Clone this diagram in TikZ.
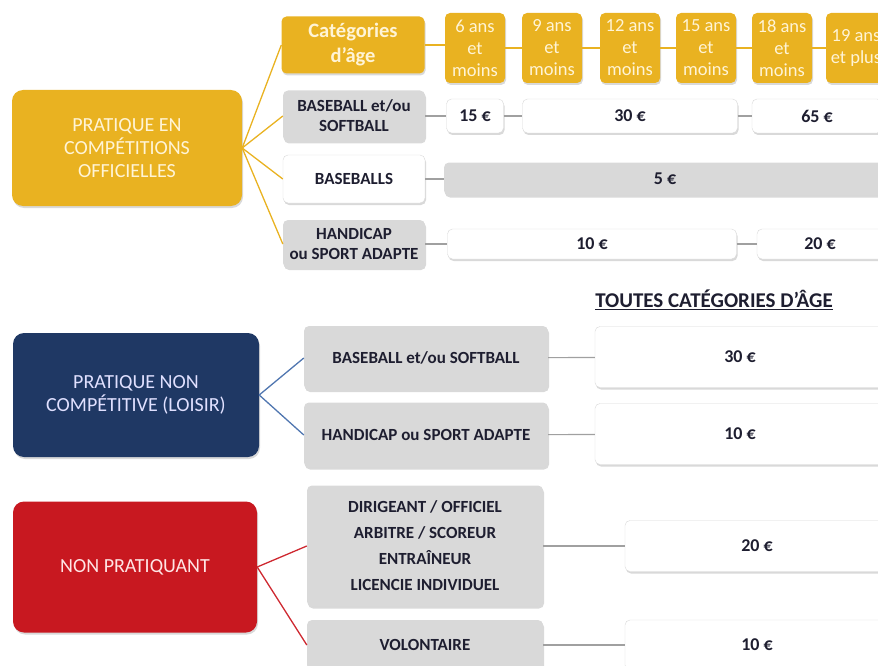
\documentclass[tikz,border=0pt]{standalone}
\usepackage{fontspec}
\setmainfont{Carlito}
\usetikzlibrary{shadows}

\definecolor{gold}{RGB}{233,178,33}
\definecolor{cream}{RGB}{255,244,214}
\definecolor{navy}{RGB}{31,56,100}
\definecolor{navyline}{RGB}{80,118,176}
\definecolor{crimson}{RGB}{200,24,32}
\definecolor{crimsonline}{RGB}{206,40,48}
\definecolor{panel}{RGB}{217,217,217}
\definecolor{ink}{RGB}{30,30,48}
\definecolor{joint}{RGB}{160,160,160}

\begin{document}
\begin{tikzpicture}[x=1pt,y=-1pt,
  every node/.style={align=center, inner sep=0pt},
  box/.style={rounded corners=5pt,
    drop shadow={opacity=0.3, shadow xshift=1pt, shadow yshift=-2pt}},
  headbox/.style={box, rounded corners=11pt, font=\fontsize{20}{23}\selectfont},
  agebox/.style={box, fill=gold, text=cream, minimum width=60, minimum height=70,
    font=\fontsize{18.5}{22}\selectfont},
  itembox/.style={box, fill=panel, text=ink, font=\bfseries\fontsize{17}{20}\selectfont},
  pricebox/.style={box, fill=white, draw=black!15, text=ink,
    font=\bfseries\fontsize{18}{20}\selectfont},
  goldlink/.style={draw=gold, line width=1.3pt},
  bluelink/.style={draw=navyline, line width=1.3pt},
  redlink/.style={draw=crimsonline, line width=1.3pt},
  greylink/.style={draw=joint, line width=1.1pt}]

  \path[use as bounding box, clip]
    (0,0)
    rectangle
    (878,666);

  \node[headbox, fill=gold, text=cream, minimum width=230, minimum height=116]
    (compet) at (127,148) {PRATIQUE EN\\COMPÉTITIONS\\OFFICIELLES};
  \node[box, fill=gold, text=cream, minimum width=143, minimum height=57,
    font=\bfseries\fontsize{20.5}{25}\selectfont]
    (cat) at (353,45) {Catégories\\d'âge};
  \node[itembox, minimum width=142, minimum height=51]
    (bs1) at (354,116) {BASEBALL et/ou\\SOFTBALL};
  \node[itembox, fill=white, draw=black!15, minimum width=142, minimum height=48]
    (balls) at (354,179) {BASEBALLS};
  \node[itembox, minimum width=142, minimum height=48]
    (hand1) at (354,244) {HANDICAP\\ou SPORT ADAPTE};

  \node[agebox] (a6) at (475,48) {6 ans\\et\\moins};
  \node[agebox] (a9) at (552,48) {9 ans\\et\\moins};
  \node[agebox] (a12) at (630,48) {12 ans\\et\\moins};
  \node[agebox] (a15) at (706,48) {15 ans\\et\\moins};
  \node[agebox] (a18) at (782,48) {18 ans\\et\\moins};
  \node[agebox] (a19) at (856,48) {19 ans\\et plus};

  \node[pricebox, minimum width=57, minimum height=34] (p15) at (475,116) {15 €};
  \node[pricebox, minimum width=215, minimum height=34] (p30) at (630,116) {30 €};
  \node[pricebox, minimum width=130, minimum height=34] (p65) at (817,116) {65 €};
  \node[pricebox, fill=panel, draw=none, minimum width=442, minimum height=33]
    (p5) at (665,179) {5 €};
  \node[pricebox, minimum width=289, minimum height=30] (p10) at (592,244) {10 €};
  \node[pricebox, minimum width=126, minimum height=30] (p20) at (820,244) {20 €};

  \draw[goldlink] (compet.east) -- (cat.west);
  \draw[goldlink] (compet.east) -- (bs1.west);
  \draw[goldlink] (compet.east) -- (balls.west);
  \draw[goldlink] (compet.east) -- (hand1.west);
  \draw[goldlink]
    (cat.east)
    --
    (a6.west |- cat.east);
  \foreach \from/\to in {a6/a9,a9/a12,a12/a15,a15/a18,a18/a19}
    \draw[goldlink] (\from.east) -- (\to.west);

  \draw[greylink] (bs1) -- (p15);
  \draw[greylink] (p15) -- (p30);
  \draw[greylink] (p30) -- (p65);
  \draw[greylink] (balls) -- (p5);
  \draw[greylink] (hand1) -- (p10);
  \draw[greylink] (p10) -- (p20);

  \node[font=\bfseries\fontsize{21}{24}\selectfont, text=ink]
    (toutes) at (714,300) {\underline{TOUTES CATÉGORIES D'ÂGE}};

  \node[headbox, fill=navy, text=white!88!blue, minimum width=246, minimum height=124]
    (loisir) at (136,395) {PRATIQUE NON\\COMPÉTITIVE (LOISIR)};
  \node[itembox, minimum width=244, minimum height=64]
    (bs2) at (426,358) {BASEBALL et/ou SOFTBALL};
  \node[itembox, minimum width=244, minimum height=65]
    (hand2) at (426,435) {HANDICAP ou SPORT ADAPTE};
  \node[pricebox, minimum width=290, minimum height=61] (q30) at (740,357) {30 €};
  \node[pricebox, minimum width=290, minimum height=61] (q10) at (740,434) {10 €};

  \draw[bluelink] (loisir.east) -- (bs2.west);
  \draw[bluelink] (loisir.east) -- (hand2.west);
  \draw[greylink] (bs2) -- (q30);
  \draw[greylink] (hand2) -- (q10);

  \node[headbox, fill=crimson, text=white!90!red, minimum width=244, minimum height=131]
    (nonprat) at (135,567) {NON PRATIQUANT};
  \node[itembox, minimum width=236, minimum height=121, font=\bfseries\fontsize{17}{26}\selectfont]
    (staff) at (425,546) {DIRIGEANT / OFFICIEL\\ARBITRE / SCOREUR\\ENTRAÎNEUR\\LICENCIE INDIVIDUEL};
  \node[itembox, minimum width=236, minimum height=50]
    (vol) at (425,645) {VOLONTAIRE};
  \node[pricebox, minimum width=264, minimum height=51] (r20) at (757,546) {20 €};
  \node[pricebox, minimum width=264, minimum height=50] (r10) at (757,645) {10 €};

  \draw[redlink] (nonprat.east) -- (staff.west);
  \draw[redlink] (nonprat.east) -- (vol.west);
  \draw[greylink] (staff) -- (r20);
  \draw[greylink] (vol) -- (r10);
\end{tikzpicture}
\end{document}
